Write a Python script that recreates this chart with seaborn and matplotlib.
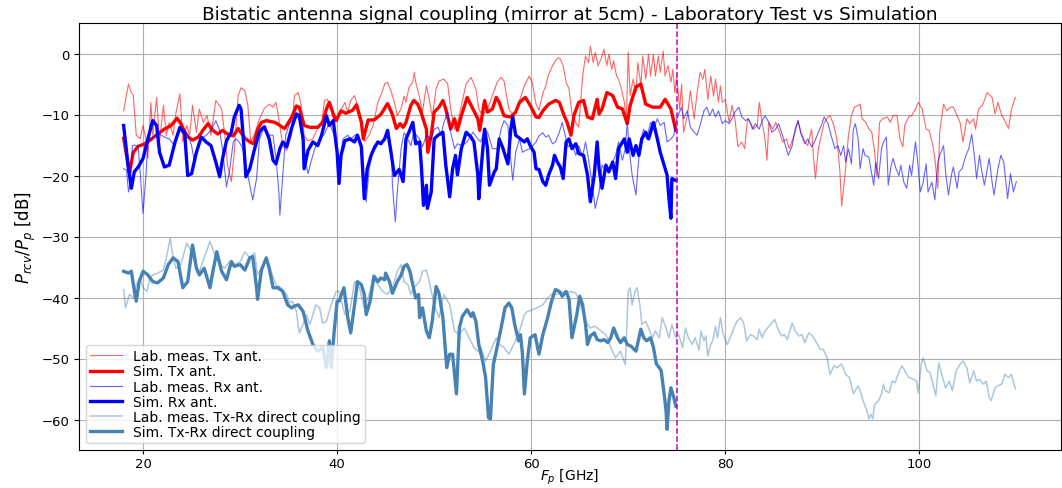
import numpy as np
import matplotlib
matplotlib.use("Agg")
import matplotlib.pyplot as plt
import seaborn as sns

# ---- data (frequency GHz, level dB) ----
LAB_TX = [(18.0,-9.4),(18.5,-5.0),(18.8,-6.4),(19.0,-6.9),(19.3,-13.4),(19.7,-14.0),(20.0,-11.8),(20.3,-14.0),(20.5,-17.2),
(20.8,-8.0),(21.0,-13.4),(21.4,-7.2),(21.7,-14.5),(22.1,-8.5),(22.4,-13.4),(22.7,-11.3),(23.1,-13.4),(23.4,-9.6),(23.8,-6.6),
(24.1,-14.5),(24.5,-11.8),(24.8,-13.4),(25.1,-8.5),(25.5,-12.9),(25.8,-9.1),(26.2,-11.3),(26.6,-10.2),(27.0,-13.4),(27.5,-7.7),
(28.1,-9.1),(28.5,-14.5),(28.7,-18.3),(29.1,-21.0),(29.4,-16.2),(29.8,-6.9),(30.1,-5.6),(30.5,-6.1),(30.8,-8.5),(31.1,-14.5),
(31.5,-13.2),(32.0,-10.7),(32.5,-9.0),(33.0,-8.3),(33.4,-8.8),(33.7,-8.0),(34.1,-11.8),(34.4,-15.1),(34.8,-15.9),(35.3,-13.4),
(35.6,-6.9),(36.0,-6.4),(36.3,-8.5),(36.6,-13.4),(37.0,-14.3),(37.5,-14.0),(37.8,-12.9),(38.4,-11.5),(38.7,-7.7),(39.0,-7.5),
(39.4,-9.1),(39.7,-11.3),(40.2,-9.9),(40.8,-8.0),(41.1,-9.6),(41.4,-7.7),(41.8,-6.9),(42.1,-8.5),(42.5,-10.7),(42.8,-14.5),
(43.3,-13.4),(43.7,-11.8),(44.2,-8.0),(44.5,-6.9),(44.9,-5.0),(45.2,-4.7),(45.6,-6.4),(45.9,-8.0),(46.2,-10.2),(46.6,-9.0),
(46.9,-7.0),(47.1,-8.0),(47.4,-5.6),(47.8,-4.7),(47.95,-3.1),(48.1,-4.7),(48.5,-7.2),(48.8,-9.6),(49.2,-5.3),(49.5,-7.5),
(49.8,-10.4),(50.2,-5.8),(50.5,-4.5),(51.0,-4.2),(51.4,-5.0),(51.7,-9.1),(52.1,-12.4),(52.4,-11.8),(52.8,-8.5),(53.3,-5.0),
(53.8,-3.9),(54.3,-5.8),(54.6,-9.1),(55.0,-10.2),(55.5,-9.1),(56.0,-6.9),(56.5,-4.7),(56.9,-3.9),(57.2,-4.5),(57.7,-9.1),
(58.2,-10.4),(58.8,-7.7),(59.3,-5.3),(59.8,-3.7),(60.1,-4.7),(60.5,-8.3),(60.8,-9.3),(61.2,-6.5),(61.5,-5.3),(61.8,-3.4),
(62.2,-2.0),(62.5,-1.2),(62.8,-0.7),(63.0,-0.9),(63.3,-2.0),(63.6,-4.7),(63.9,-5.8),(64.2,-9.9),(64.6,-11.3),(64.9,-12.1),
(65.3,-3.7),(65.6,-0.4),(65.9,-1.5),(66.1,1.2),(66.4,-1.5),(66.6,0.2),(66.9,-2.0),(67.2,-0.9),(67.5,0.7),(67.8,-2.0),
(68.0,-0.1),(68.3,-2.6),(68.5,-1.2),(68.8,-3.7),(69.0,-4.2),(69.3,-5.8),(69.6,-8.0),(69.8,-11.3),(70.0,0.2),(70.2,-6.9),
(70.5,-4.2),(70.8,-6.4),(71.0,-1.5),(71.3,-5.3),(71.5,-0.4),(71.8,-4.2),(72.1,-0.1),(72.3,-3.7),(72.6,-0.1),(72.8,-3.7),
(73.1,-0.4),(73.3,-3.1),(73.6,0.4),(73.8,-3.7),(74.1,-2.0),(74.4,-4.7),(74.6,-2.6),(74.8,-6.4),(75.0,-3.7),(75.3,-9.1),
(75.5,-5.0),(75.7,-12.9),(76.1,-10.2),(76.4,-6.1),(76.8,-10.7),(77.1,-6.4),(77.4,-3.1),(77.7,-4.2),(77.9,-2.6),(78.2,-7.5),
(78.5,-3.7),(78.8,-7.0),(79.0,-4.2),(79.3,-8.0),(79.5,-5.3),(79.7,-8.0),(80.0,-7.5),(80.4,-11.3),(80.7,-8.5),(81.0,-10.7),
(81.3,-15.3),(81.7,-14.5),(82.0,-15.6),(82.3,-10.7),(82.6,-11.3),(82.9,-12.4),(83.3,-11.8),(83.5,-8.0),(83.8,-11.3),(84.1,-14.0),
(84.3,-17.5),(84.5,-11.3),(84.9,-12.4),(85.2,-11.3),(85.6,-12.9),(85.9,-14.5),(86.3,-14.0),(86.6,-15.6),(86.9,-14.3),(87.2,-12.9),
(87.5,-11.0),(87.8,-12.9),(88.2,-14.5),(88.5,-15.1),(88.9,-12.4),(89.1,-17.2),(89.3,-20.5),(89.6,-15.6),(89.9,-13.4),(90.2,-11.3),
(90.6,-10.4),(90.8,-10.2),(91.2,-11.8),(91.5,-14.0),(91.8,-19.0),(92.0,-25.0),(92.4,-18.9),(92.7,-13.4),(93.0,-10.2),(93.3,-8.8),
(93.7,-8.5),(93.9,-8.3),(94.1,-10.7),(94.5,-11.3),(94.8,-12.4),(95.1,-12.9),(95.4,-16.2),(95.6,-20.0),(95.9,-11.3),(96.2,-10.7),
(96.7,-10.4),(97.0,-11.3),(97.3,-10.2),(97.7,-10.2),(98.0,-14.0),(98.3,-15.3),(98.5,-11.8),(98.9,-10.4),(99.2,-10.2),(99.6,-9.1),
(99.9,-8.0),(100.3,-9.1),(100.7,-12.4),(101.0,-12.6),(101.4,-15.1),(101.6,-17.2),(101.9,-22.1),(102.1,-12.9),(102.5,-8.3),(102.8,-9.4),
(103.2,-8.8),(103.5,-8.8),(103.9,-10.2),(104.2,-11.3),(104.5,-14.5),(104.9,-10.7),(105.2,-11.5),(105.6,-10.7),(105.8,-12.4),(106.1,-9.1),
(106.5,-8.5),(107.0,-6.4),(107.5,-7.2),(107.8,-9.9),(108.1,-8.0),(108.5,-10.2),(108.7,-10.7),(109.2,-12.3),(109.5,-9.1),(109.9,-7.2)]

SIM_TX = [(18.0,-13.9),(18.6,-19.5),(19.0,-16.2),(19.5,-15.2),(20.2,-14.8),(20.9,-14.0),(21.5,-13.2),(22.2,-12.4),(22.9,-11.8),
(23.5,-10.6),(23.9,-11.5),(24.5,-13.5),(25.1,-14.2),(25.7,-13.7),(26.3,-12.3),(26.7,-11.5),(27.2,-12.6),(27.7,-13.2),(28.2,-12.6),
(28.7,-13.2),(29.3,-13.5),(29.8,-12.3),(30.5,-13.9),(31.0,-14.5),(31.4,-14.8),(31.8,-12.5),(32.2,-11.3),(32.7,-11.0),(33.6,-11.3),
(34.1,-11.8),(34.6,-12.3),(35.3,-10.5),(35.8,-8.6),(36.1,-8.8),(36.6,-11.8),(37.2,-12.1),(38.0,-12.1),(38.5,-11.3),(38.9,-9.1),
(39.2,-8.0),(39.6,-9.9),(39.9,-11.0),(40.4,-9.4),(40.9,-9.8),(41.6,-9.3),(42.0,-8.4),(42.5,-11.3),(42.7,-14.0),(43.2,-10.9),
(43.8,-10.9),(44.5,-10.0),(45.2,-8.2),(45.7,-10.0),(46.1,-12.3),(46.5,-11.5),(46.8,-12.1),(47.1,-11.3),(47.6,-8.5),(47.9,-7.7),
(48.3,-8.3),(48.6,-9.4),(49.2,-12.4),(49.35,-16.2),(49.7,-13.4),(50.0,-9.6),(50.5,-8.8),(50.9,-7.7),(51.2,-9.1),(51.7,-12.4),
(52.1,-10.7),(52.4,-12.6),(52.8,-10.2),(53.4,-7.2),(54.0,-9.1),(54.5,-10.7),(54.7,-12.6),(55.2,-7.7),(55.5,-9.6),(56.0,-9.1),
(56.4,-7.2),(56.7,-8.0),(57.2,-10.2),(57.9,-10.4),(58.4,-9.6),(58.8,-8.0),(59.4,-7.2),(59.9,-8.5),(60.5,-10.4),(60.8,-10.5),
(61.2,-9.4),(61.8,-8.3),(62.5,-7.7),(62.9,-8.0),(63.4,-10.2),(63.7,-11.3),(64.1,-13.4),(64.4,-10.2),(64.9,-8.0),(65.4,-7.7),
(65.8,-10.4),(66.3,-10.7),(66.8,-7.5),(67.0,-9.9),(67.3,-9.1),(67.8,-6.4),(68.4,-6.9),(68.9,-8.8),(69.4,-9.1),(69.9,-11.5),
(70.2,-8.5),(70.8,-5.5),(71.3,-5.0),(71.8,-8.3),(72.5,-8.8),(73.3,-8.8),(73.8,-7.5),(74.4,-9.1),(74.9,-12.6)]

LAB_RX = [(18.0,-18.9),(18.3,-19.1),(18.5,-22.7),(18.7,-21.0),(18.9,-15.1),(19.1,-15.0),(19.5,-15.3),(19.7,-19.4),(20.0,-26.2),
(20.3,-20.0),(20.5,-14.3),(21.0,-13.7),(21.7,-13.2),(22.2,-13.7),(22.7,-14.0),(23.1,-14.8),(23.4,-14.5),(23.8,-12.6),(24.3,-12.6),
(24.6,-13.2),(25.0,-15.1),(25.3,-17.8),(25.7,-15.1),(26.0,-14.0),(26.5,-13.4),(27.0,-12.6),(27.5,-11.0),(27.9,-12.6),(28.2,-15.9),
(28.6,-21.9),(28.9,-19.4),(29.3,-14.5),(29.6,-14.0),(29.9,-14.5),(30.3,-15.6),(30.6,-18.3),(31.0,-21.6),(31.3,-24.0),(31.7,-20.5),
(32.0,-14.0),(32.5,-12.0),(33.0,-13.4),(33.4,-13.4),(33.7,-17.2),(34.0,-22.7),(34.1,-26.5),(34.3,-22.1),(34.7,-13.4),(35.1,-11.5),
(35.6,-10.7),(36.0,-10.4),(36.3,-12.1),(36.6,-16.7),(37.0,-19.7),(37.3,-17.8),(37.7,-15.6),(38.2,-14.0),(38.7,-13.2),(39.2,-11.3),
(39.7,-13.4),(40.0,-15.6),(40.2,-18.3),(40.6,-14.0),(41.1,-13.4),(41.4,-14.0),(42.0,-13.2),(42.3,-14.0),(42.6,-17.2),(43.0,-24.3),
(43.3,-18.9),(43.8,-15.1),(44.4,-14.5),(44.9,-14.3),(45.2,-13.2),(45.6,-15.6),(45.7,-21.6),(46.0,-27.6),(46.2,-22.7),(46.6,-15.5),
(46.9,-13.0),(47.1,-13.4),(47.6,-15.1),(47.9,-12.9),(48.5,-14.0),(48.8,-15.3),(49.2,-13.4),(49.7,-14.0),(50.0,-12.4),(50.4,-12.1),
(50.7,-13.4),(51.0,-11.3),(51.4,-9.6),(51.7,-12.9),(52.1,-15.6),(52.4,-14.8),(52.9,-15.1),(53.4,-14.5),(54.0,-12.9),(54.5,-14.0),
(54.8,-14.5),(55.2,-12.4),(55.5,-12.9),(56.0,-15.6),(56.5,-15.6),(56.9,-12.4),(57.2,-11.0),(57.6,-11.8),(57.9,-17.5),(58.1,-20.8),
(58.4,-16.2),(58.8,-14.0),(59.1,-16.2),(59.4,-15.9),(59.9,-15.6),(60.5,-14.5),(60.8,-13.5),(61.2,-13.0),(61.5,-13.7),(61.8,-13.4),
(62.2,-14.8),(62.5,-14.5),(62.9,-12.9),(63.2,-11.3),(63.5,-13.4),(63.8,-15.3),(64.2,-14.8),(64.6,-16.7),(64.9,-15.1),(65.3,-16.9),
(65.6,-14.5),(65.9,-17.2),(66.3,-21.6),(66.6,-25.4),(67.0,-22.7),(67.3,-18.3),(67.7,-19.4),(68.0,-18.9),(68.4,-17.8),(68.7,-16.7),
(69.0,-14.5),(69.4,-17.5),(69.7,-15.6),(69.9,-11.3),(70.1,-15.6),(70.4,-19.9),(70.8,-23.2),(71.0,-18.9),(71.3,-14.0),(71.6,-12.4),
(71.9,-14.0),(72.3,-11.3),(72.6,-12.4),(73.0,-10.7),(73.3,-11.8),(73.7,-11.3),(74.0,-14.5),(74.4,-14.0),(74.7,-13.4),(74.9,-11.3),
(75.2,-9.9),(75.5,-8.8),(75.7,-10.7),(76.1,-9.4),(76.4,-12.1),(76.8,-12.9),(77.1,-13.4),(77.4,-11.8),(77.8,-9.4),(78.1,-8.8),
(78.4,-10.2),(78.7,-9.1),(79.0,-10.4),(79.3,-9.4),(79.7,-11.5),(80.0,-11.0),(80.4,-11.5),(80.7,-10.7),(81.0,-9.6),(81.4,-8.8),
(81.7,-10.4),(82.1,-11.0),(82.4,-10.7),(82.8,-12.4),(83.1,-11.5),(83.5,-12.4),(83.8,-11.0),(84.1,-10.2),(84.5,-11.3),(84.8,-12.9),
(85.2,-12.4),(85.5,-11.5),(85.9,-13.4),(86.2,-15.1),(86.5,-16.7),(86.9,-15.1),(87.2,-12.4),(87.5,-11.0),(87.8,-13.2),(88.2,-14.8),
(88.5,-14.0),(88.9,-15.3),(89.2,-14.5),(89.6,-12.9),(89.9,-11.8),(90.2,-10.4),(90.6,-11.5),(90.9,-13.4),(91.3,-15.6),(91.6,-15.1),
(91.9,-16.7),(92.2,-15.1),(92.4,-17.8),(92.7,-15.6),(93.0,-18.1),(93.2,-12.4),(93.4,-11.5),(93.7,-14.0),(93.9,-18.9),(94.2,-15.6),
(94.4,-16.7),(94.8,-17.0),(95.0,-18.9),(95.3,-21.6),(95.5,-17.8),(95.8,-20.5),(96.1,-15.6),(96.3,-14.5),(96.6,-13.7),(96.8,-21.6),
(97.1,-18.3),(97.3,-17.2),(97.6,-18.9),(97.9,-20.0),(98.1,-18.3),(98.4,-21.1),(98.7,-22.1),(99.0,-18.3),(99.2,-20.0),(99.6,-14.5),
(99.8,-17.2),(100.1,-22.7),(100.4,-21.1),(100.7,-18.1),(100.9,-22.7),(101.3,-21.1),(101.6,-24.0),(101.9,-17.8),(102.1,-16.7),(102.5,-15.1),
(102.7,-19.4),(103.0,-23.2),(103.3,-20.0),(103.5,-18.6),(103.9,-22.1),(104.1,-19.4),(104.4,-18.9),(104.8,-16.7),(105.1,-15.6),(105.4,-13.2),
(105.7,-17.2),(105.9,-20.5),(106.2,-16.7),(106.4,-18.9),(106.7,-21.6),(107.0,-18.9),(107.2,-17.2),(107.5,-21.1),(107.7,-23.2),(108.1,-18.9),
(108.4,-16.7),(108.7,-17.8),(109.1,-23.8),(109.4,-19.7),(109.7,-22.7),(110.0,-21.0)]

SIM_RX = [(18.0,-11.8),(18.5,-18.9),(18.8,-22.1),(19.1,-19.4),(19.5,-18.6),(20.0,-17.2),(20.5,-14.0),(21.0,-11.0),(21.4,-11.8),
(21.7,-16.2),(22.2,-18.6),(22.7,-18.3),(23.3,-14.5),(23.8,-12.1),(24.3,-13.2),(24.6,-20.0),(25.0,-19.7),(25.5,-16.2),(26.0,-13.7),
(26.5,-14.5),(27.0,-15.1),(27.5,-17.8),(27.9,-20.2),(28.2,-17.2),(28.6,-14.3),(29.1,-12.9),(29.4,-10.4),(29.9,-8.5),(30.1,-9.1),
(30.4,-15.3),(30.6,-20.2),(31.0,-18.9),(31.5,-15.6),(32.0,-12.8),(32.5,-12.0),(33.0,-14.0),(33.4,-17.5),(33.7,-18.1),(34.1,-15.6),
(34.4,-14.5),(34.8,-15.3),(35.3,-12.3),(35.8,-9.9),(36.1,-10.2),(36.5,-14.0),(36.6,-18.9),(37.0,-15.9),(37.5,-14.5),(38.0,-15.1),
(38.4,-13.4),(38.9,-10.2),(39.2,-11.8),(39.6,-11.0),(40.0,-16.2),(40.2,-21.3),(40.4,-16.7),(40.8,-14.3),(41.3,-14.0),(41.8,-14.5),
(42.1,-13.4),(42.5,-15.3),(42.8,-23.8),(43.1,-18.9),(43.5,-16.7),(43.8,-15.6),(44.2,-14.5),(44.5,-14.8),(44.9,-14.0),(45.2,-12.6),
(45.6,-16.7),(45.9,-20.0),(46.4,-19.0),(46.8,-21.0),(47.1,-14.0),(47.4,-12.9),(47.8,-11.3),(48.1,-14.8),(48.5,-14.5),(48.7,-18.9),
(48.9,-24.9),(49.2,-21.6),(49.3,-25.4),(49.7,-22.7),(50.0,-14.0),(50.4,-13.4),(50.9,-12.9),(51.2,-18.3),(51.6,-23.5),(51.9,-18.9),
(52.2,-16.7),(52.4,-19.9),(52.8,-15.6),(53.3,-12.9),(53.8,-13.7),(54.1,-14.5),(54.5,-19.9),(54.6,-23.8),(54.9,-17.8),(55.2,-12.4),
(55.5,-15.6),(55.7,-21.6),(56.2,-19.4),(56.4,-18.9),(56.7,-14.0),(57.1,-15.6),(57.6,-18.1),(57.9,-12.4),(58.1,-10.4),(58.4,-13.4),
(58.9,-14.0),(59.3,-14.5),(59.6,-14.0),(59.9,-15.1),(60.3,-16.2),(60.5,-18.9),(60.8,-19.0),(61.2,-21.0),(61.5,-21.6),(61.8,-19.9),
(62.2,-18.3),(62.4,-16.7),(62.7,-17.8),(63.0,-18.6),(63.3,-20.5),(63.6,-14.5),(63.9,-14.0),(64.2,-15.6),(64.6,-14.8),(64.9,-16.4),
(65.4,-16.7),(65.8,-19.9),(66.1,-24.3),(66.5,-19.9),(66.8,-14.5),(67.0,-18.9),(67.3,-22.1),(67.7,-18.3),(68.0,-19.4),(68.4,-17.8),
(68.7,-20.5),(69.0,-15.6),(69.6,-14.0),(69.9,-16.2),(70.1,-14.0),(70.5,-16.7),(70.8,-15.1),(71.1,-16.7),(71.4,-14.0),(71.8,-12.9),
(72.1,-14.0),(72.6,-11.3),(73.0,-14.0),(73.3,-16.2),(73.7,-18.3),(74.0,-19.9),(74.2,-23.8),(74.4,-27.0),(74.5,-20.5),(74.9,-20.8)]

LAB_DC = [(18.0,-38.7),(18.2,-41.7),(18.6,-39.5),(19.0,-40.1),(19.3,-37.9),(19.7,-36.8),(20.0,-38.4),(20.4,-39.0),(20.7,-36.8),
(21.0,-36.3),(21.5,-36.0),(22.1,-35.5),(22.4,-33.5),(22.8,-30.3),(23.1,-33.5),(23.4,-35.2),(23.9,-34.6),(24.5,-31.1),(25.0,-32.5),
(25.5,-35.2),(25.8,-35.7),(26.3,-33.5),(26.9,-30.8),(27.4,-33.0),(27.9,-34.6),(28.4,-35.2),(28.9,-34.1),(29.4,-34.6),(30.0,-34.1),
(30.5,-32.5),(31.0,-33.5),(31.5,-32.7),(31.8,-36.3),(32.4,-34.6),(32.7,-33.5),(33.2,-35.7),(33.7,-37.9),(34.2,-38.4),(34.8,-39.5),
(35.1,-40.9),(35.4,-40.6),(35.8,-42.3),(36.1,-45.8),(36.5,-44.4),(36.8,-42.8),(37.2,-44.4),(37.5,-42.8),(37.8,-41.2),(38.2,-41.7),
(38.5,-44.2),(38.9,-43.9),(39.4,-41.2),(39.9,-39.0),(40.2,-39.0),(40.8,-42.8),(41.3,-42.3),(41.8,-37.4),(42.3,-38.4),(42.8,-41.7),
(43.3,-39.5),(43.7,-36.8),(44.2,-37.9),(44.7,-39.0),(45.2,-39.5),(45.7,-38.4),(46.2,-35.7),(46.6,-34.6),(46.9,-37.4),(47.3,-37.9),
(47.6,-39.5),(47.9,-38.4),(48.5,-37.4),(48.8,-35.7),(49.2,-35.5),(49.5,-37.4),(50.0,-41.2),(50.5,-43.3),(51.0,-39.5),(51.6,-41.2),
(52.1,-45.5),(52.6,-46.1),(53.1,-45.0),(53.6,-46.6),(54.1,-48.2),(54.5,-48.8),(54.8,-48.2),(55.3,-50.4),(55.8,-48.8),(56.4,-46.6),
(56.7,-47.7),(57.2,-48.2),(57.7,-49.3),(58.2,-47.7),(58.8,-45.5),(59.3,-42.8),(59.6,-42.3),(60.1,-42.0),(60.6,-41.7),(61.2,-41.2),
(61.7,-40.1),(62.2,-39.3),(62.7,-39.5),(63.0,-39.0),(63.6,-39.3),(64.1,-39.0),(64.6,-39.3),(65.1,-41.2),(65.6,-43.9),(66.1,-45.0),
(66.6,-44.7),(67.2,-45.5),(67.7,-46.1),(68.2,-48.2),(68.7,-49.9),(69.2,-48.8),(69.7,-51.0),(70.0,-39.0),(70.2,-38.4),(70.4,-41.2),
(70.7,-39.0),(70.9,-38.4),(71.2,-41.2),(71.4,-44.4),(71.8,-43.9),(72.1,-45.0),(72.5,-46.6),(72.8,-45.5),(73.2,-46.6),(73.5,-43.3),
(73.9,-45.0),(74.2,-46.6),(74.5,-44.4),(74.9,-46.6),(75.2,-46.1),(75.6,-48.2),(75.9,-45.0),(76.2,-46.6),(76.6,-47.7),(76.9,-46.6),
(77.3,-48.6),(77.5,-45.5),(77.8,-47.1),(78.0,-46.3),(78.2,-49.6),(78.5,-47.7),(78.7,-47.1),(79.0,-44.7),(79.2,-46.6),(79.5,-43.3),
(79.8,-46.1),(80.2,-47.7),(80.5,-46.6),(80.9,-45.0),(81.2,-43.9),(81.6,-43.3),(81.9,-44.2),(82.2,-47.1),(82.6,-46.1),(82.9,-46.3),
(83.3,-46.9),(83.5,-45.2),(83.8,-46.6),(84.1,-45.5),(84.5,-44.7),(85.1,-43.6),(85.4,-45.0),(85.8,-46.3),(86.1,-46.1),(86.4,-46.9),
(86.9,-44.2),(87.2,-45.5),(87.6,-46.3),(87.9,-46.1),(88.2,-47.4),(88.6,-45.8),(89.0,-46.3),(89.3,-47.1),(89.8,-48.5),(90.1,-48.5),
(90.5,-49.9),(90.8,-52.6),(91.2,-51.2),(91.5,-51.5),(92.0,-50.9),(92.4,-52.6),(92.8,-53.1),(93.2,-55.8),(93.7,-54.5),(94.0,-55.8),
(94.2,-56.9),(94.6,-58.6),(94.8,-59.9),(95.0,-59.1),(95.2,-59.9),(95.4,-57.5),(95.8,-56.9),(96.1,-55.8),(96.3,-54.2),(96.5,-55.3),
(96.9,-55.6),(97.2,-53.7),(97.5,-54.0),(97.8,-52.6),(98.2,-51.2),(98.5,-52.0),(98.9,-53.1),(99.4,-53.4),(99.7,-53.7),(99.9,-55.6),
(100.2,-50.9),(100.4,-49.9),(100.8,-52.0),(101.1,-52.3),(101.5,-54.8),(101.7,-56.1),(102.0,-50.7),(102.4,-53.1),(102.7,-54.8),(103.1,-53.7),
(103.4,-55.3),(103.8,-52.0),(104.2,-50.9),(104.5,-50.4),(104.9,-51.5),(105.2,-54.0),(105.6,-52.0),(105.9,-53.7),(106.2,-53.4),(106.6,-54.2),
(106.9,-53.7),(107.2,-56.4),(107.4,-56.9),(107.8,-54.8),(108.1,-54.5),(108.5,-54.2),(108.8,-52.6),(109.2,-53.1),(109.5,-52.6),(109.9,-55.0)]

SIM_DC = [(18.0,-35.7),(18.5,-36.0),(18.8,-35.7),(19.0,-37.9),(19.3,-40.6),(19.6,-37.4),(20.0,-35.7),(20.5,-36.3),(21.0,-37.4),
(21.5,-37.6),(22.1,-36.8),(22.6,-34.6),(23.1,-33.5),(23.6,-34.1),(24.1,-38.4),(24.6,-37.4),(25.1,-31.4),(25.5,-35.2),(25.8,-36.3),
(26.3,-35.2),(26.9,-38.4),(27.2,-35.7),(27.6,-32.5),(28.1,-35.7),(28.6,-37.1),(29.1,-34.1),(29.4,-34.9),(30.0,-34.6),(30.5,-35.5),
(31.0,-33.5),(31.3,-33.3),(31.7,-38.4),(31.8,-40.3),(32.2,-35.5),(32.7,-33.5),(33.0,-35.2),(33.4,-38.4),(33.9,-38.4),(34.4,-39.0),
(34.9,-41.2),(35.3,-41.7),(35.6,-41.4),(36.0,-41.2),(36.5,-42.3),(37.0,-45.5),(37.5,-47.7),(38.0,-48.8),(38.5,-48.2),(38.9,-51.5),
(39.2,-47.1),(39.4,-51.5),(39.7,-45.5),(40.0,-40.6),(40.2,-40.6),(40.7,-38.4),(41.1,-43.3),(41.4,-45.8),(41.8,-41.2),(42.1,-37.4),
(42.5,-37.9),(42.8,-39.5),(43.0,-42.8),(43.4,-40.6),(43.8,-36.5),(44.2,-37.4),(44.5,-36.8),(44.9,-37.1),(45.0,-36.0),(45.4,-37.4),
(45.7,-39.3),(46.2,-37.4),(46.6,-36.3),(46.9,-34.9),(47.2,-34.6),(47.5,-35.7),(47.8,-37.9),(48.1,-40.1),(48.4,-39.5),(48.5,-43.3),
(48.8,-41.7),(49.2,-45.5),(49.5,-46.6),(49.8,-43.9),(50.2,-38.2),(50.5,-39.3),(50.9,-43.3),(51.3,-51.5),(51.6,-49.3),(51.9,-49.3),
(52.3,-55.8),(52.6,-45.0),(52.9,-43.1),(53.4,-42.0),(53.8,-43.1),(54.0,-42.5),(54.3,-43.9),(54.6,-47.7),(55.0,-50.4),(55.3,-53.1),
(55.6,-59.7),(55.8,-59.9),(56.1,-51.0),(56.4,-48.8),(56.9,-45.0),(57.3,-41.7),(57.7,-40.9),(58.0,-41.7),(58.3,-44.4),(58.7,-47.1),
(58.9,-46.1),(59.1,-49.3),(59.3,-55.8),(59.6,-50.4),(59.9,-46.6),(60.4,-46.1),(60.8,-49.3),(61.2,-46.1),(61.7,-43.3),(62.1,-40.6),
(62.5,-38.7),(62.9,-39.0),(63.2,-39.8),(63.6,-39.0),(63.9,-40.3),(64.2,-46.6),(64.7,-42.8),(65.0,-39.8),(65.3,-41.2),(65.6,-44.4),
(65.8,-47.7),(66.1,-46.3),(66.5,-45.8),(66.8,-46.9),(67.2,-47.1),(67.5,-46.9),(67.9,-47.4),(68.2,-46.6),(68.5,-45.0),(68.9,-46.6),
(69.2,-47.4),(69.6,-46.6),(69.9,-47.7),(70.3,-48.0),(70.8,-48.8),(71.1,-46.6),(71.3,-45.2),(71.6,-46.6),(71.9,-47.1),(72.3,-46.6),
(72.6,-48.2),(72.9,-50.9),(73.2,-51.5),(73.4,-52.0),(73.7,-55.8),(73.9,-58.6),(74.0,-61.6),(74.2,-56.9),(74.4,-54.8),(74.7,-56.4),
(74.9,-57.8)]

LABELS = ["Lab. meas. Tx ant.", "Sim. Tx ant.", "Lab. meas. Rx ant.", "Sim. Rx ant.",
          "Lab. meas. Tx-Rx direct coupling", "Sim. Tx-Rx direct coupling"]
CUTOFF_GHZ = 75.0

# ---- figure ----
W, H = 1062, 489
AX_L, AX_R, AX_T, AX_B = 79, 1061, 24, 451
fig = plt.figure(figsize=(W / 100, H / 100), dpi=100)
ax = fig.add_axes([AX_L / W, 1 - AX_B / H, (AX_R - AX_L) / W, (AX_B - AX_T) / H])

series = [LAB_TX, SIM_TX, LAB_RX, SIM_RX, LAB_DC, SIM_DC]
styles = [dict(color="red", lw=0.8, alpha=0.6),
          dict(color="red", lw=2.4, alpha=1.0),
          dict(color="blue", lw=0.8, alpha=0.6),
          dict(color="blue", lw=2.4, alpha=1.0),
          dict(color="steelblue", lw=1.1, alpha=0.45),
          dict(color="steelblue", lw=2.4, alpha=1.0)]

for data, lab, st in zip(series, LABELS, styles):
    arr = np.array(data)
    sns.lineplot(x=arr[:, 0], y=arr[:, 1], ax=ax, label=lab, estimator=None, sort=False, **st)

ax.axvline(CUTOFF_GHZ, color="m", ls="--", lw=1.1)

ax.set_xlim(13.4, 114.6)
ax.set_ylim(-65, 5)
ax.set_xticks([20, 40, 60, 80, 100])
ax.set_yticks([-60, -50, -40, -30, -20, -10, 0])
ax.grid(True, color="#b0b0b0", lw=0.8)
ax.tick_params(axis="both", labelsize=9.5)
ax.tick_params(axis="x", length=3, pad=2)
ax.set_title("Bistatic antenna signal coupling (mirror at 5cm) - Laboratory Test vs Simulation",
             fontsize=13.3, pad=3)
ax.set_xlabel("$F_p$ [GHz]", fontsize=10, va="baseline")
ax.xaxis.set_label_coords(0.5, (AX_B - 481) / (AX_B - AX_T))
ax.set_ylabel("$P_{rcv}/P_p$ [dB]", fontsize=12)
ax.yaxis.set_label_coords(-0.042, 0.5)
ax.legend(loc="lower left", fontsize=10, labelspacing=0.08, borderpad=0.3, handlelength=2.3,
          handletextpad=0.8)

fig.savefig("out.png", dpi=100)
